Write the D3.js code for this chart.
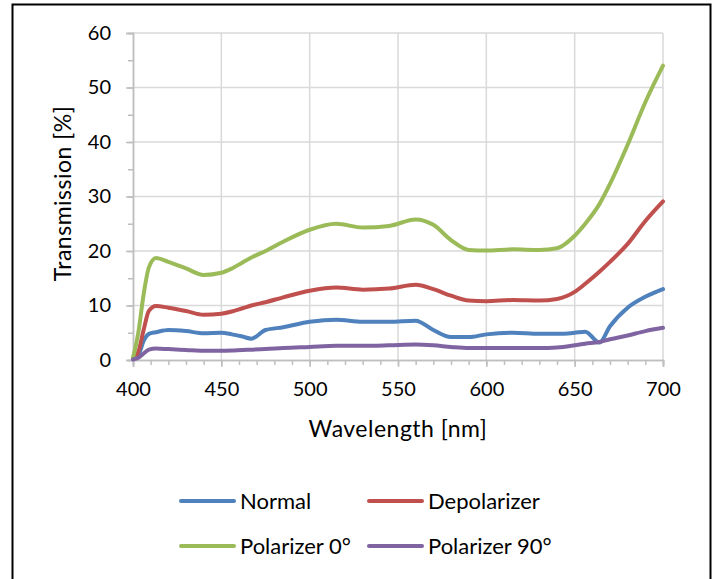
<!DOCTYPE html>
<html>
<head>
<meta charset="utf-8">
<script src="https://cdn.jsdelivr.net/npm/d3@7"></script>
<style>
  body { margin: 0; background: #fff; }
  svg text { font-family: Lato, "Open Sans", sans-serif; fill: #000; }
</style>
</head>
<body>
<div id="chart"></div>
<script>
// wavelength samples (nm) and transmission (%)
var wavelength = [400, 403, 406, 409, 413, 420, 430, 440, 450, 456, 462, 467, 475, 485, 500, 515, 530, 545, 560, 570, 580, 590, 600, 615, 630, 640, 650, 656, 664, 670, 680, 690, 700];
var normal      = [0.2, 0.8, 3.5, 4.8, 5.1, 5.5, 5.3, 4.9, 5.0, 4.7, 4.3, 3.9, 5.5, 6.0, 7.0, 7.4, 7.0, 7.0, 7.2, 5.5, 4.2, 4.2, 4.7, 5.0, 4.8, 4.8, 5.0, 5.2, 3.2, 6.2, 9.6, 11.6, 13.0];
var depolarizer = [0.3, 1.5, 5.5, 9.0, 9.9, 9.6, 9.0, 8.3, 8.5, 8.9, 9.5, 10.0, 10.6, 11.5, 12.7, 13.3, 12.9, 13.1, 13.8, 13.0, 11.8, 10.9, 10.8, 11.0, 10.9, 11.2, 12.5, 14.0, 16.2, 18.0, 21.3, 25.5, 29.1];
var pol0        = [0.4, 5.0, 12.0, 17.0, 18.7, 18.0, 16.8, 15.6, 16.0, 16.8, 17.9, 18.8, 20.0, 21.7, 23.9, 25.0, 24.3, 24.6, 25.8, 24.8, 22.0, 20.2, 20.1, 20.3, 20.2, 20.5, 22.8, 25.0, 28.6, 32.3, 39.5, 47.3, 54.0];
var pol90       = [0.1, 0.4, 1.2, 1.9, 2.1, 2.0, 1.85, 1.7, 1.7, 1.75, 1.85, 1.9, 2.0, 2.2, 2.4, 2.6, 2.6, 2.7, 2.85, 2.7, 2.4, 2.2, 2.2, 2.2, 2.2, 2.3, 2.7, 3.0, 3.3, 3.8, 4.5, 5.3, 5.9];

var seriesNames = ["Normal", "Depolarizer", "Polarizer 0\u00b0", "Polarizer 90\u00b0"];
var seriesColors = ["#4F81BD", "#C0504D", "#9BBB59", "#8064A2"];
var xTicks = [400, 450, 500, 550, 600, 650, 700];
var yTicks = [0, 10, 20, 30, 40, 50, 60];

var W = 720, H = 579;
var margin = {left: 133, top: 33, right: 57, bottom: 219};
var width = W - margin.left - margin.right,
    height = H - margin.top - margin.bottom;

var svg = d3.select("#chart").append("svg")
    .attr("width", W)
    .attr("height", H);

// outer frame
svg.append("rect")
    .attr("x", 12.5).attr("y", 4.5)
    .attr("width", 698).attr("height", 620)
    .attr("fill", "none")
    .attr("stroke", "#000")
    .attr("stroke-width", 2);

var g = svg.append("g").attr("transform", "translate(" + margin.left + "," + margin.top + ")");

var x = d3.scaleLinear().domain([400, 700]).range([0, width]),
    y = d3.scaleLinear().domain([0, 60]).range([height, 0]);

// grid
g.append("g").selectAll("line.hgrid")
    .data(yTicks.slice(1))
    .enter().append("line")
    .attr("x1", 0).attr("x2", width)
    .attr("y1", function(d) { return y(d); })
    .attr("y2", function(d) { return y(d); })
    .attr("stroke", "#D9D9D9").attr("stroke-width", 1.5);

g.append("g").selectAll("line.vgrid")
    .data(xTicks.slice(1))
    .enter().append("line")
    .attr("y1", 0).attr("y2", height)
    .attr("x1", function(d) { return x(d); })
    .attr("x2", function(d) { return x(d); })
    .attr("stroke", "#D9D9D9").attr("stroke-width", 1.5);

// minor ticks
var yMinor = d3.range(0, 61, 5), xMinor = d3.range(400, 701, 10);
g.append("g")
    .attr("class", "axis axis--yminor")
    .call(d3.axisLeft(y).tickValues(yMinor).tickSize(5).tickFormat(""));
g.append("g")
    .attr("class", "axis axis--xminor")
    .attr("transform", "translate(0," + height + ")")
    .call(d3.axisBottom(x).tickValues(xMinor).tickSize(5).tickFormat(""));

// major axes
g.append("g")
    .attr("class", "axis axis--y")
    .call(d3.axisLeft(y).tickValues(yTicks).tickSize(7).tickPadding(15));

g.append("g")
    .attr("class", "axis axis--x")
    .attr("transform", "translate(0," + height + ")")
    .call(d3.axisBottom(x).tickValues(xTicks).tickSize(7).tickPadding(15));

g.selectAll(".axis path, .axis line").attr("stroke", "#BFBFBF").attr("stroke-width", 1.5);
g.selectAll(".axis text").style("font-size", "20px").attr("fill", "#000");

// axis titles
g.append("text")
    .attr("x", width / 2)
    .attr("y", height + 77)
    .attr("text-anchor", "middle")
    .style("font-size", "23px")
    .style("letter-spacing", "0.5px")
    .text("Wavelength [nm]");

g.append("text")
    .attr("transform", "rotate(-90)")
    .attr("x", -height / 2 + 3)
    .attr("y", -70)
    .attr("dy", "0.35em")
    .attr("text-anchor", "middle")
    .style("font-size", "23px")
    .style("letter-spacing", "0.5px")
    .text("Transmission [%]");

// series
var allSeries = [normal, depolarizer, pol0, pol90];
var line = d3.line()
    .curve(d3.curveMonotoneX)
    .x(function(d, i) { return x(wavelength[i]); })
    .y(function(d) { return y(d); });

g.selectAll(".series")
    .data(allSeries)
    .enter().append("path")
    .attr("class", "series")
    .attr("d", function(d) { return line(d); })
    .attr("fill", "none")
    .attr("stroke", function(d, i) { return seriesColors[i]; })
    .attr("stroke-width", 4)
    .attr("stroke-linejoin", "round")
    .attr("stroke-linecap", "round");

// legend
var legX = [181, 369], legY = [501, 546];
var leg = svg.selectAll(".legend")
    .data(seriesNames)
    .enter().append("g")
    .attr("class", "legend")
    .attr("transform", function(d, i) { return "translate(" + legX[i % 2] + "," + legY[Math.floor(i / 2)] + ")"; });

leg.append("line")
    .attr("x1", 0).attr("x2", 53)
    .attr("stroke", function(d, i) { return seriesColors[i]; })
    .attr("stroke-width", 4)
    .attr("stroke-linecap", "round");

leg.append("text")
    .attr("x", 59)
    .attr("dy", "0.35em")
    .style("font-size", "22px")
    .text(function(d) { return d; });
</script>
</body>
</html>
